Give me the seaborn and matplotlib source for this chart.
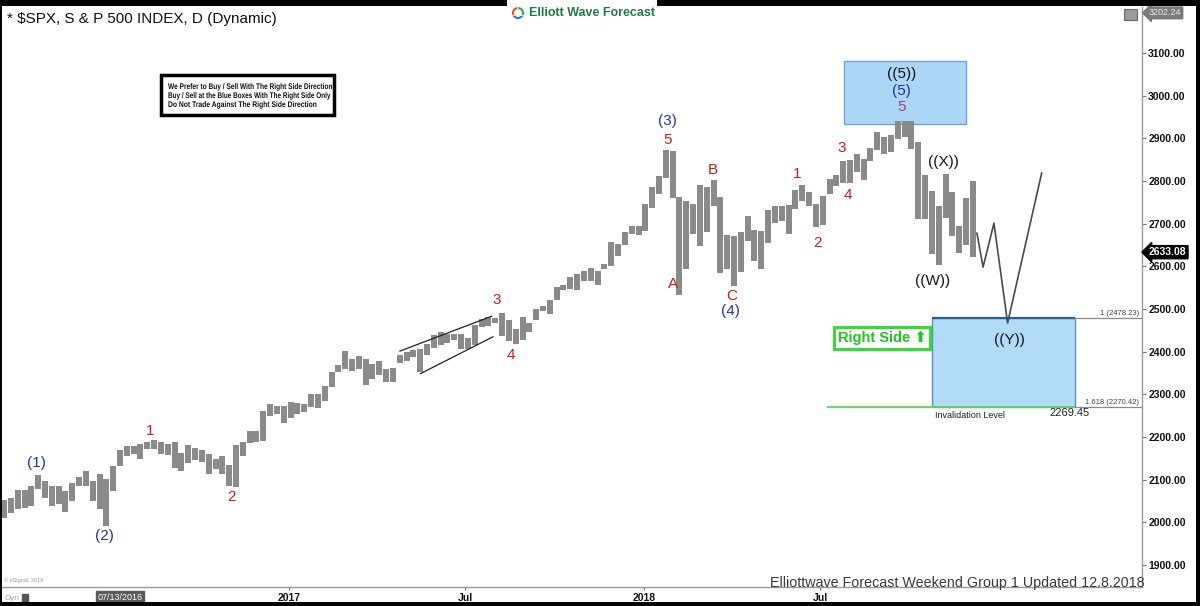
import numpy as np
import pandas as pd
import matplotlib
matplotlib.use("Agg")
from matplotlib import pyplot as plt
from matplotlib import transforms
from matplotlib.patches import Rectangle, PathPatch
from matplotlib.textpath import TextPath
from matplotlib.font_manager import FontProperties
import seaborn as sns

# weekly bars, first week starts 2016-03-14, last week 2018-12-03
start_week = "2016-03-14"

hi_2016 = [2052, 2056, 2075, 2075, 2085, 2111, 2097, 2084, 2084, 2074, 2093, 2105, 2120, 2097,
           2113, 2102, 2131, 2169, 2178, 2178, 2183, 2188, 2193, 2187, 2184, 2187, 2163, 2180,
           2175, 2169, 2161, 2148, 2154, 2133, 2182, 2189, 2214, 2214, 2260, 2278, 2273, 2273]
lo_2016 = [2010, 2022, 2030, 2033, 2039, 2077, 2057, 2039, 2043, 2025, 2049, 2085, 2085, 2050,
           2032, 1991, 2074, 2131, 2155, 2159, 2147, 2172, 2172, 2160, 2157, 2127, 2119, 2139,
           2145, 2142, 2114, 2124, 2114, 2084, 2083, 2156, 2185, 2187, 2191, 2248, 2254, 2233]

hi_2017 = [2282, 2279, 2277, 2300, 2300, 2319, 2351, 2368, 2401, 2383, 2390, 2382, 2370, 2378,
           2359, 2362, 2391, 2400, 2403, 2406, 2418, 2440, 2446, 2441, 2442, 2442, 2432, 2463,
           2477, 2481, 2478, 2490, 2474, 2454, 2481, 2468, 2500, 2508, 2520, 2552, 2557, 2576,
           2582, 2588, 2597, 2590, 2605, 2658, 2652, 2680, 2695, 2695]
lo_2017 = [2245, 2254, 2258, 2271, 2267, 2285, 2316, 2352, 2358, 2354, 2359, 2322, 2335, 2344,
           2328, 2329, 2373, 2378, 2387, 2353, 2393, 2408, 2415, 2419, 2428, 2405, 2407, 2416,
           2458, 2459, 2468, 2437, 2425, 2417, 2428, 2446, 2474, 2496, 2489, 2520, 2545, 2547,
           2544, 2566, 2565, 2557, 2593, 2601, 2624, 2649, 2676, 2673]

hi_2018 = [2747, 2787, 2811, 2873, 2870, 2763, 2754, 2747, 2790, 2787, 2802, 2763, 2674, 2672,
           2680, 2718, 2684, 2683, 2732, 2742, 2742, 2743, 2779, 2791, 2774, 2746, 2764, 2804,
           2814, 2848, 2849, 2863, 2852, 2877, 2916, 2903, 2908, 2941, 2940, 2940, 2891, 2814,
           2776, 2742, 2816, 2775, 2695, 2760, 2800]
lo_2018 = [2683, 2737, 2769, 2808, 2759, 2533, 2593, 2675, 2647, 2681, 2741, 2585, 2594, 2553,
           2586, 2660, 2613, 2594, 2655, 2701, 2707, 2676, 2734, 2754, 2742, 2692, 2698, 2770,
           2789, 2795, 2795, 2821, 2802, 2847, 2873, 2864, 2868, 2898, 2903, 2874, 2710, 2710,
           2628, 2604, 2714, 2671, 2631, 2649, 2621]

last_close = 2633.08
top_label = 3202.24

# wave labels: text, week, price, colour key
wave_labels = [
    ("(1)", 4.8, 2139, "blue"), ("(2)", 14.65, 1968, "blue"),
    ("1", 21.4, 2214, "red"), ("2", 33.3, 2059, "red"),
    ("3", 72.2, 2521, "red"), ("4", 74.3, 2392, "red"),
    ("(3)", 97.3, 2941, "blue"), ("5", 97.2, 2897, "red"),
    ("A", 98.0, 2558, "red"), ("B", 103.9, 2826, "red"),
    ("C", 106.7, 2530, "red"), ("(4)", 106.5, 2495, "blue"),
    ("1", 116.2, 2816, "red"), ("2", 119.3, 2655, "red"),
    ("3", 122.8, 2877, "red"), ("4", 123.7, 2767, "red"),
    ("((5))", 131.6, 3051, "black"), ("(5)", 131.6, 3011, "blue"),
    ("5", 131.6, 2974, "purple"),
    ("((X))", 137.7, 2844, "black"), ("((W))", 136.1, 2565, "black"),
    ("((Y))", 147.3, 2427, "black"),
]

# projected path and wedge channel
proj_weeks = [142.6, 143.5, 145.1, 147.1, 152.1]
proj_prices = [2678, 2598, 2701, 2467, 2819]
wedge_up_weeks, wedge_up_prices = [58.0, 71.5], [2401, 2483]
wedge_lo_weeks, wedge_lo_prices = [61.0, 71.7], [2348, 2435]

# blue boxes
top_box_weeks, top_box_prices = [123.1, 141.0], [2934, 3082]
fib_weeks = [136.0, 157.0]
fib_levels = [2478.23, 2270.42]
fib_names = ["1", "1.618"]
invalidation = 2269.45
invalid_weeks = [120.6, 157.0]

tick_dates = ["2017-01-03", "2017-07-03", "2018-01-02", "2018-07-02"]
tick_names = ["2017", "Jul", "2018", "Jul"]
first_date = "2016-07-13"

notes = ["We Prefer to Buy / Sell With The Right Side Direction",
         "Buy / Sell at the Blue Boxes With The Right Side Only",
         "Do Not Trade Against The Right Side Direction"]
notes_width = [164, 162, 148]

colors = {"blue": "#2330b8", "red": "#cc1b1b", "black": "#151515", "purple": "#a3407c"}

W, H = 1200, 606


def fx(px):
    return px / W


def fy(py):
    return 1 - py / H


def week_pos(date):
    d = (pd.Timestamp(date) - pd.Timestamp(start_week)).days
    return d // 7 - 0.4 + 0.2 * (d % 7)


sns.set_theme(style="white")
plt.rcParams["font.family"] = ["Liberation Sans", "DejaVu Sans"]

highs = np.array(hi_2016 + hi_2017 + hi_2018)
lows = np.array(lo_2016 + lo_2017 + lo_2018)
weeks = np.arange(len(highs))

fig = plt.figure(figsize=(12, 6.06), dpi=100)
fig.patch.set_facecolor("white")
ax = fig.add_axes([fx(2), fy(587), fx(1140), 580 / H])
ax.set_facecolor("white")

# boxes
ax.add_patch(Rectangle((top_box_weeks[0], top_box_prices[0]), top_box_weeks[1] - top_box_weeks[0],
                       top_box_prices[1] - top_box_prices[0], fc="#acd6f6", ec="#6aa6d6", lw=1, zorder=1))
ax.add_patch(Rectangle((fib_weeks[0], fib_levels[1]), fib_weeks[1] - fib_weeks[0],
                       fib_levels[0] - fib_levels[1], fc="#b2dbf8", ec="#5a8fc0", lw=1, zorder=1))
ax.hlines(fib_levels[0], fib_weeks[0], fib_weeks[1], color="#2f5f8a", lw=1.6, zorder=2)
ax.hlines(fib_levels, fib_weeks[1], 166.8, color="#8a8a8a", lw=0.9, zorder=2)
for name, lev in zip(fib_names, fib_levels):
    ax.text(166.4, lev + 3, f"{name} ({lev:.2f})", ha="right", va="bottom", fontsize=5.5, color="#444444")
ax.hlines(invalidation, invalid_weeks[0], invalid_weeks[1], color="#5fd35f", lw=1.3, zorder=3)
ax.text(136.4, 2251, "Invalidation Level", fontsize=6.5, va="center", ha="left", color="#222222")
ax.text(153.3, 2256, f"{invalidation:.2f}", fontsize=8, va="center", ha="left", color="#222222")

# price bars
ax.vlines(weeks, lows, highs, color="#8a8a8a", lw=4.3, zorder=4)

# wave lines
sns.lineplot(x=proj_weeks, y=proj_prices, sort=False, color="#4a4a4a", lw=1.2, ax=ax, zorder=5)
sns.lineplot(x=wedge_up_weeks, y=wedge_up_prices, color="#222222", lw=0.9, ax=ax, zorder=5)
sns.lineplot(x=wedge_lo_weeks, y=wedge_lo_prices, color="#222222", lw=0.9, ax=ax, zorder=5)

for txt, wx, wy, c in wave_labels:
    ax.text(wx, wy, txt, color=colors[c], ha="center", va="center", fontsize=11, zorder=6)

ax.text(128.7, 2432, "Right Side \u2b06", color="#22c422", fontsize=10.5, fontweight="bold",
        ha="center", va="center",
        bbox=dict(boxstyle="square,pad=0.25", fc="white", ec="#33dd33", lw=2.2), zorder=6)

ax.set_xlim(-0.3, 166.8)
ax.set_ylim(1848, 3208)

# axes styling
for s in ["left", "top"]:
    ax.spines[s].set_visible(False)
for s in ["right", "bottom"]:
    ax.spines[s].set_color("#9a9a9a")
    ax.spines[s].set_linewidth(1)
ax.yaxis.tick_right()
ax.set_yticks(np.arange(1900, 3101, 100))
ax.set_yticklabels([f"{v:.2f}" for v in np.arange(1900, 3101, 100)])
ax.tick_params(axis="y", which="both", right=True, left=False, length=3, width=0.8, color="#777777",
               pad=1.5, labelsize=7.5, labelcolor="#111111")
for lab in ax.get_yticklabels():
    lab.set_fontweight("bold")
ax.set_xticks([week_pos(d) for d in tick_dates])
ax.set_xticklabels(tick_names)
ax.tick_params(axis="x", bottom=True, length=2, width=0.8, color="#777777", pad=2.5,
               labelsize=7.5, labelcolor="#111111")
for lab in ax.get_xticklabels():
    lab.set_fontweight("bold")
ax.set_xlabel(None)
ax.set_ylabel(None)

blend = transforms.blended_transform_factory(ax.transAxes, ax.transData)
ax.text(1.006, last_close, f"{last_close:.2f}", transform=blend, color="white", fontsize=7.5,
        fontweight="bold", va="center", ha="left", clip_on=False,
        bbox=dict(boxstyle="larrow,pad=0.15", fc="black", ec="black"))
ax.text(1.006, top_label - 8, f"{top_label:.2f}", transform=blend, color="#eeeeee", fontsize=6.5,
        va="center", ha="left", clip_on=False,
        bbox=dict(boxstyle="larrow,pad=0.15", fc="#7a7a7a", ec="#7a7a7a"))

# first date box
fig.text(fx(week_pos(first_date) * 6.824 + 4), fy(597), pd.Timestamp(first_date).strftime("%m/%d/%Y"),
         color="white", fontsize=6.5, ha="center", va="center",
         bbox=dict(boxstyle="square,pad=0.2", fc="#5a5a5a", ec="#5a5a5a"))

# title and notes
fig.text(fx(7), fy(19), "* \\$SPX, S & P 500 INDEX, D (Dynamic)", fontsize=11, va="center",
         ha="left", color="#111111")
fig.patches.append(Rectangle((fx(161), fy(115)), fx(173), 40 / H, transform=fig.transFigure,
                             fc="white", ec="black", lw=2.5, zorder=3))
bold = FontProperties(family="Liberation Sans", weight="bold")
for i, (line, width) in enumerate(zip(notes, notes_width)):
    tp = TextPath((0, 0), line, size=8.2, prop=bold)
    sx = width / tp.get_extents().width
    tr = transforms.Affine2D().scale(sx / W, 1 / H).translate(fx(168), fy(89 + 9 * i)) + fig.transFigure
    fig.patches.append(PathPatch(tp, transform=tr, fc="#111111", ec="none", zorder=4))

fig.text(fx(4), fy(580), "\u00a9 eSignal, 2018", fontsize=4, color="#999999", va="center")
fig.text(fx(4), fy(598), "Dyn", fontsize=6, color="#aaaaaa", va="center")
fig.patches.append(Rectangle((fx(22), fy(602)), fx(6), 8 / H, transform=fig.transFigure,
                             fc="#555555", ec="#555555", zorder=3))
fig.text(fx(1144), fy(583), "Elliottwave Forecast Weekend Group 1 Updated 12.8.2018", fontsize=10.3,
         color="#3a3a3a", ha="right", va="center")

# frame
for rx, ry, rw, rh in [(0, 0, 1200, 6), (0, 0, 2, 606), (1196, 0, 4, 606), (0, 602, 1200, 4)]:
    fig.patches.append(Rectangle((fx(rx), fy(ry + rh)), rw / W, rh / H, transform=fig.transFigure,
                                 fc="black", ec="none", zorder=5))
fig.patches.append(Rectangle((fx(507), fy(7)), 150 / W, 7 / H, transform=fig.transFigure,
                             fc="white", ec="none", zorder=6))
fig.patches.append(Rectangle((fx(1124), fy(20)), 13 / W, 11 / H, transform=fig.transFigure,
                             fc="#9a9a9a", ec="#666666", lw=0.8, zorder=6))

# logo
fig.text(fx(529), fy(13), "Elliott Wave Forecast", fontsize=9, fontweight="bold", color="#1f7a48",
         va="center", ha="left", zorder=7)
lax = fig.add_axes([fx(510), fy(21), 16 / W, 16 / H])
lax.pie([1, 1, 1], colors=["#e8532b", "#2a7fc1", "#39a845"], startangle=90,
        wedgeprops=dict(width=0.45, edgecolor="white", linewidth=0.5))
lax.set_aspect("equal")
lax.axis("off")

fig.savefig("out.png", dpi=100, facecolor="white")
